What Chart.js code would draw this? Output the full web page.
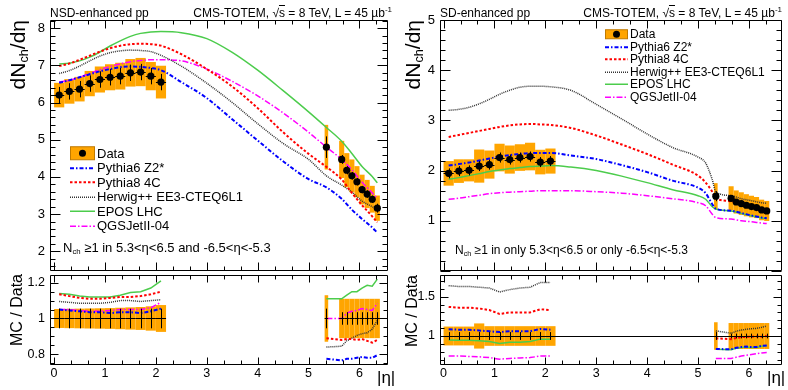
<!DOCTYPE html>
<html>
<head>
<meta charset="utf-8">
<script src="https://cdn.jsdelivr.net/npm/chart.js@4.4.0/dist/chart.umd.min.js"></script>
<style>
  body { margin: 0; width: 788px; height: 390px; position: relative; overflow: hidden; background: #fff;
         font-family: "Liberation Sans", Arial, Helvetica, sans-serif; color: #000; }
  canvas { position: absolute; }
  .t { position: absolute; white-space: nowrap; line-height: 16px; }
  .t sup { font-size: 8px; vertical-align: 5px; line-height: 0; }
  .t sub, .yt sub { font-size: 0.6em; vertical-align: -0.25em; line-height: 0; }
  .yt { position: absolute; white-space: nowrap; transform-origin: 0 0; transform: rotate(-90deg);
        text-align: right; width: 200px; }
  .leg { position: absolute; }
  .leg div { display: flex; align-items: center; white-space: nowrap; }
  .leg svg { flex: none; margin-right: 2px; }
</style>
</head>
<body>
<canvas id="nsdMain" width="400" height="275" style="left:0;top:0"></canvas>
<canvas id="nsdRatio" width="400" height="118" style="left:0;top:272px"></canvas>
<canvas id="sdMain" width="398" height="275" style="left:390px;top:0"></canvas>
<canvas id="sdRatio" width="398" height="118" style="left:390px;top:272px"></canvas>

<div class="t" style="left:50px;top:5px;font-size:12px">NSD-enhanced pp</div>
<div class="t" style="right:396px;top:5px;font-size:12px">CMS-TOTEM, √<span style="text-decoration:overline">s</span> = 8 TeV, L = 45 µb<sup>-1</sup></div>
<div class="t" style="left:440px;top:5px;font-size:12px">SD-enhanced pp</div>
<div class="t" style="right:6px;top:5px;font-size:12px">CMS-TOTEM, √<span style="text-decoration:overline">s</span> = 8 TeV, L = 45 µb<sup>-1</sup></div>

<div class="yt" style="left:5px;top:220px;font-size:21px;line-height:26px">dN<sub>ch</sub>/dη</div>
<div class="yt" style="left:400px;top:220px;font-size:21px;line-height:26px">dN<sub>ch</sub>/dη</div>
<div class="yt" style="left:7px;top:474px;font-size:16px;line-height:20px">MC / Data</div>
<div class="yt" style="left:402px;top:475px;font-size:16px;line-height:20px">MC / Data</div>

<div class="t" style="left:63px;top:240px;font-size:13px">N<sub>ch</sub> ≥1 in 5.3&lt;η&lt;6.5 and -6.5&lt;η&lt;-5.3</div>
<div class="t" style="left:455px;top:242px;font-size:12px">N<sub>ch</sub> ≥1 in only 5.3&lt;η&lt;6.5 or only -6.5&lt;η&lt;-5.3</div>

<div class="t" style="left:377px;top:368px;font-size:17px;line-height:20px">|η|</div>
<div class="t" style="left:767px;top:368px;font-size:17px;line-height:20px">|η|</div>

<div class="leg" id="legNsd" style="left:70px;top:146px;font-size:13px"></div>
<div class="leg" id="legSd" style="left:605px;top:28px;font-size:12px"></div>

<script>
// bins: central |eta| < 2.2 and forward 5.3 < |eta| < 6.5 (T2)
const etaBins = [0.1, 0.3, 0.5, 0.7, 0.9, 1.1, 1.3, 1.5, 1.7, 1.9, 2.1,
                 5.35, 5.65, 5.75, 5.85, 5.95, 6.05, 6.15, 6.25, 6.35];
const binHalf = [0.1, 0.1, 0.1, 0.1, 0.1, 0.1, 0.1, 0.1, 0.1, 0.1, 0.1,
                 0.035, 0.05, 0.05, 0.05, 0.05, 0.05, 0.05, 0.05, 0.05];
const etaTicks = [0, 1, 2, 3, 4, 5, 6];

// ---- NSD-enhanced ----
const nsdData = [6.20, 6.30, 6.36, 6.51, 6.62, 6.68, 6.71, 6.80, 6.82, 6.71, 6.55,
                 4.80, 4.47, 4.18, 4.03, 3.87, 3.66, 3.54, 3.40, 3.16];
const nsdStat = [0.22, 0.22, 0.22, 0.22, 0.22, 0.22, 0.22, 0.22, 0.22, 0.22, 0.22,
                 0.29, 0.12, 0.11, 0.10, 0.10, 0.10, 0.10, 0.10, 0.12];
const nsdSys = [0.33, 0.33, 0.33, 0.34, 0.35, 0.35, 0.36, 0.37, 0.38, 0.38, 0.44,
                0.60, 0.50, 0.46, 0.44, 0.42, 0.40, 0.38, 0.36, 0.34];
const nsdYTicks = [2, 3, 4, 5, 6, 7, 8];

const nsdMcEta = [0.1, 0.3, 0.5, 0.7, 0.9, 1.1, 1.3, 1.5, 1.7, 1.9, 2.1,
                  2.5, 3.0, 3.5, 4.0, 4.5, 5.0, 5.35, 5.65, 5.85, 6.05, 6.25, 6.35];
const nsdPythia6 = [6.53, 6.60, 6.68, 6.76, 6.84, 6.90, 6.95, 6.97, 6.96, 6.93, 6.87,
                    6.55, 6.12, 5.55, 4.98, 4.42, 3.94, 3.72, 3.41, 3.12, 2.87, 2.64, 2.50];
const nsdPythia8 = [6.98, 7.05, 7.15, 7.26, 7.37, 7.46, 7.53, 7.57, 7.58, 7.57, 7.53,
                    7.30, 6.90, 6.43, 5.85, 5.20, 4.62, 4.27, 3.93, 3.57, 3.24, 2.94, 2.78];
const nsdHerwig = [6.78, 6.86, 6.98, 7.12, 7.25, 7.34, 7.39, 7.41, 7.40, 7.37, 7.27,
                   6.98, 6.52, 6.00, 5.43, 4.90, 4.47, 4.03, 3.78, 3.59, 3.35, 3.20, 3.12];
const nsdEpos = [7.04, 7.06, 7.12, 7.22, 7.36, 7.52, 7.66, 7.78, 7.86, 7.90, 7.91,
                 7.88, 7.72, 7.35, 6.87, 6.32, 5.75, 5.33, 4.96, 4.63, 4.28, 4.01, 3.84];
const nsdQgs = [6.55, 6.60, 6.68, 6.78, 6.88, 6.97, 7.04, 7.10, 7.13, 7.15, 7.15,
                7.12, 6.90, 6.57, 6.18, 5.72, 5.20, 4.80, 4.47, 4.19, 3.86, 3.57, 3.42];

const nsdRatioStat = [0.055, 0.055, 0.055, 0.055, 0.055, 0.055, 0.055, 0.055, 0.055, 0.055, 0.055,
                      0.055, 0.035, 0.035, 0.035, 0.035, 0.035, 0.035, 0.035, 0.035];
const nsdRatioSys = [0.053, 0.054, 0.055, 0.056, 0.057, 0.058, 0.060, 0.062, 0.064, 0.068, 0.075,
                     0.130, 0.110, 0.110, 0.110, 0.110, 0.110, 0.110, 0.110, 0.110];
const nsdRatioPythia6 = [1.05, 1.045, 1.04, 1.035, 1.035, 1.03, 1.035, 1.035, 1.03, 1.04, 1.055,
                         0.775, 0.765, 0.775, 0.775, 0.78, 0.785, 0.78, 0.78, 0.795];
const nsdRatioPythia8 = [1.135, 1.125, 1.115, 1.11, 1.11, 1.115, 1.12, 1.12, 1.125, 1.135, 1.15,
                         0.89, 0.88, 0.885, 0.885, 0.88, 0.885, 0.875, 0.865, 0.88];
const nsdRatioHerwig = [1.095, 1.09, 1.085, 1.085, 1.085, 1.09, 1.10, 1.10, 1.095, 1.10, 1.105,
                        0.84, 0.845, 0.875, 0.89, 0.905, 0.915, 0.92, 0.94, 0.99];
const nsdRatioEpos = [1.14, 1.135, 1.125, 1.12, 1.12, 1.12, 1.13, 1.145, 1.15, 1.17, 1.21,
                      1.11, 1.11, 1.13, 1.15, 1.15, 1.17, 1.185, 1.18, 1.22];
const nsdRatioQgs = [1.05, 1.05, 1.045, 1.04, 1.04, 1.045, 1.05, 1.05, 1.05, 1.06, 1.09,
                     1.0, 1.0, 1.03, 1.04, 1.045, 1.055, 1.05, 1.045, 1.085];
const nsdRatioTicks = [0.8, 1, 1.2];

// ---- SD-enhanced ----
const sdData = [1.945, 1.99, 2.005, 2.09, 2.12, 2.26, 2.22, 2.26, 2.28, 2.17, 2.19,
                1.49, 1.448, 1.375, 1.343, 1.31, 1.284, 1.264, 1.216, 1.196];
const sdStat = [0.10, 0.10, 0.10, 0.10, 0.10, 0.10, 0.10, 0.10, 0.10, 0.10, 0.10,
                0.10, 0.04, 0.04, 0.04, 0.04, 0.04, 0.04, 0.04, 0.04];
const sdSys = [0.245, 0.235, 0.22, 0.33, 0.28, 0.275, 0.28, 0.265, 0.275, 0.245, 0.25,
               0.26, 0.24, 0.23, 0.225, 0.22, 0.215, 0.21, 0.205, 0.20];
const sdYTicks = [1, 2, 3, 4, 5];

const sdMcEta = [0.1, 0.3, 0.5, 0.7, 0.9, 1.1, 1.3, 1.5, 1.7, 1.9, 2.1,
                 2.5, 3.0, 3.5, 4.0, 4.5, 5.0, 5.15, 5.28, 5.35, 5.65, 5.85, 6.05, 6.25, 6.35];
const sdPythia6 = [2.10, 2.13, 2.16, 2.20, 2.24, 2.28, 2.31, 2.33, 2.35, 2.35, 2.35,
                   2.30, 2.23, 2.11, 1.97, 1.80, 1.66, 1.55, 1.33, 1.24, 1.20, 1.155, 1.105, 1.065, 1.05];
const sdPythia8 = [2.67, 2.71, 2.75, 2.79, 2.83, 2.87, 2.90, 2.92, 2.93, 2.92, 2.91,
                   2.85, 2.70, 2.52, 2.33, 2.12, 1.90, 1.76, 1.58, 1.445, 1.39, 1.32, 1.27, 1.20, 1.19];
const sdHerwig = [3.20, 3.22, 3.26, 3.33, 3.42, 3.52, 3.60, 3.66, 3.68, 3.68, 3.67,
                  3.60, 3.32, 3.03, 2.73, 2.46, 2.27, 2.15, 1.82, 1.58, 1.50, 1.44, 1.40, 1.36, 1.35];
const sdEpos = [1.83, 1.86, 1.90, 1.94, 1.98, 2.01, 2.04, 2.06, 2.08, 2.09, 2.10,
                2.07, 2.00, 1.89, 1.76, 1.62, 1.50, 1.43, 1.28, 1.235, 1.195, 1.148, 1.10, 1.058, 1.045];
const sdQgs = [1.43, 1.45, 1.48, 1.51, 1.54, 1.56, 1.57, 1.58, 1.59, 1.60, 1.60,
               1.60, 1.58, 1.55, 1.50, 1.44, 1.36, 1.30, 1.13, 1.065, 1.035, 1.0, 0.98, 0.955, 0.945];

const sdRatioStat = [0.05, 0.05, 0.05, 0.05, 0.05, 0.05, 0.05, 0.05, 0.05, 0.05, 0.05,
                     0.05, 0.03, 0.03, 0.03, 0.03, 0.03, 0.03, 0.03, 0.03];
const sdRatioSys = [0.12, 0.12, 0.12, 0.16, 0.125, 0.125, 0.125, 0.125, 0.125, 0.125, 0.125,
                    0.175, 0.165, 0.165, 0.165, 0.165, 0.165, 0.165, 0.165, 0.165];
const sdRatioPythia6 = [1.085, 1.08, 1.08, 1.07, 1.06, 1.05, 1.06, 1.06, 1.06, 1.09, 1.08,
                        0.835, 0.83, 0.85, 0.86, 0.865, 0.86, 0.86, 0.875, 0.88];
const sdRatioPythia8 = [1.37, 1.36, 1.36, 1.35, 1.33, 1.28, 1.30, 1.30, 1.30, 1.34, 1.33,
                        0.97, 0.96, 0.975, 0.985, 0.99, 0.99, 0.995, 0.99, 1.0];
const sdRatioHerwig = [1.64, 1.63, 1.63, 1.62, 1.61, 1.56, 1.59, 1.61, 1.62, 1.68, 1.68,
                       1.065, 1.035, 1.06, 1.075, 1.085, 1.093, 1.097, 1.11, 1.127];
const sdRatioEpos = [0.95, 0.945, 0.945, 0.94, 0.93, 0.905, 0.92, 0.92, 0.93, 0.96, 0.96,
                     0.83, 0.825, 0.845, 0.855, 0.86, 0.855, 0.855, 0.87, 0.875];
const sdRatioQgs = [0.745, 0.745, 0.74, 0.735, 0.725, 0.705, 0.715, 0.72, 0.725, 0.745, 0.745,
                    0.715, 0.715, 0.73, 0.745, 0.755, 0.765, 0.775, 0.785, 0.79];
const sdRatioTicks = [1, 1.5];

// generator styles (ROOT-like)
const mcLabels = ['Pythia6 Z2*', 'Pythia8 4C', 'Herwig++ EE3-CTEQ6L1', 'EPOS LHC', 'QGSJetII-04'];
const mcStyles = [
    { color: '#0000ff', width: 2, dash: [4, 2, 1.5, 2] },
    { color: '#ff0000', width: 2, dash: [2.5, 2] },
    { color: '#333333', width: 1.5, dash: [1, 1] },
    { color: '#4ccc4c', width: 1.5, dash: [] },
    { color: '#ff00ff', width: 1.5, dash: [6, 2, 1.5, 2] }
];
const ORANGE = '#ffa500';
const FONT = '"Liberation Sans", Arial, Helvetica, sans-serif';

Chart.defaults.font.family = FONT;
Chart.defaults.color = '#000';

// orange boxes + black error bars, drawn through the chart scales
const hepPlugin = {
    id: 'hep',
    beforeDatasetsDraw(chart, args, o) {
        const { ctx, chartArea: a, scales: { x, y } } = chart;
        ctx.save();
        ctx.beginPath();
        ctx.rect(a.left, a.top, a.width, a.height);
        ctx.clip();
        ctx.fillStyle = ORANGE;
        o.eta.forEach((e, i) => {
            const x0 = x.getPixelForValue(e - o.half[i]);
            const x1 = x.getPixelForValue(e + o.half[i]);
            const y0 = y.getPixelForValue(o.val[i] + o.sys[i]);
            const y1 = y.getPixelForValue(o.val[i] - o.sys[i]);
            ctx.fillRect(x0, y0, x1 - x0, y1 - y0);
        });
        if (o.unity) {
            const py = Math.round(y.getPixelForValue(1)) + 0.5;
            ctx.strokeStyle = '#000';
            ctx.lineWidth = 1;
            ctx.beginPath();
            ctx.moveTo(a.left, py);
            ctx.lineTo(a.right, py);
            ctx.stroke();
        }
        ctx.restore();
    },
    afterDatasetsDraw(chart, args, o) {
        const { ctx, chartArea: a, scales: { x, y } } = chart;
        ctx.save();
        ctx.beginPath();
        ctx.rect(a.left, a.top, a.width, a.height);
        ctx.clip();
        ctx.strokeStyle = '#000';
        ctx.lineWidth = 1;
        ctx.beginPath();
        o.eta.forEach((e, i) => {
            const px = Math.round(x.getPixelForValue(e)) + 0.5;
            const py = Math.round(y.getPixelForValue(o.val[i])) + 0.5;
            ctx.moveTo(px, y.getPixelForValue(o.val[i] + o.stat[i]));
            ctx.lineTo(px, y.getPixelForValue(o.val[i] - o.stat[i]));
            ctx.moveTo(x.getPixelForValue(e - o.half[i]), py);
            ctx.lineTo(x.getPixelForValue(e + o.half[i]), py);
        });
        ctx.stroke();
        ctx.restore();
    }
};

// frame with inward ticks on all four sides
const framePlugin = {
    id: 'frame',
    afterDraw(chart, args, o) {
        const { ctx, chartArea: a, scales: { x, y } } = chart;
        const L = Math.round(a.left) + 0.5, R = Math.round(a.right) - 0.5;
        const T = Math.round(a.top) + 0.5, B = Math.round(a.bottom) - 0.5;
        ctx.save();
        ctx.strokeStyle = '#000';
        ctx.lineWidth = 1;
        ctx.beginPath();
        ctx.rect(L, T, R - L, B - T);
        const xm = o.xStep / o.xSub;
        for (let i = Math.ceil(x.min / xm - 1e-6); i * xm <= x.max + 1e-9; i++) {
            const px = Math.round(x.getPixelForValue(i * xm)) + 0.5;
            const len = ((i % o.xSub) + o.xSub) % o.xSub === 0 ? o.xMaj : o.xMin;
            ctx.moveTo(px, B); ctx.lineTo(px, B - len);
            ctx.moveTo(px, T); ctx.lineTo(px, T + len);
        }
        const ym = o.yStep / o.ySub;
        for (let i = Math.ceil(y.min / ym - 1e-6); i * ym <= y.max + 1e-9; i++) {
            const py = Math.round(y.getPixelForValue(i * ym)) + 0.5;
            const len = ((i % o.ySub) + o.ySub) % o.ySub === 0 ? o.yMaj : o.yMin;
            ctx.moveTo(L, py); ctx.lineTo(L + len, py);
            ctx.moveTo(R, py); ctx.lineTo(R - len, py);
        }
        ctx.stroke();
        ctx.restore();
    }
};

function mcDataset(xs, ys, i, smooth) {
    const s = mcStyles[i];
    return {
        type: 'line',
        label: mcLabels[i],
        data: xs.map((x, k) => ({ x, y: ys[k] })),
        borderColor: s.color,
        borderWidth: s.width,
        borderDash: s.dash,
        pointRadius: 0,
        fill: false,
        cubicInterpolationMode: smooth ? 'monotone' : 'default',
        tension: 0,
        order: 1
    };
}

function ratioPoints(vals) {
    const pts = etaBins.map((x, k) => ({ x, y: vals[k] }));
    pts.splice(11, 0, { x: 3.7, y: null }); // gap between central and forward
    return pts;
}

function noPad(s) {
    s.paddingTop = 0; s.paddingBottom = 0; s.paddingLeft = 0; s.paddingRight = 0;
}

function yAxis(min, max, ticks, size) {
    return {
        min, max,
        afterBuildTicks: s => { s.ticks = ticks.map(v => ({ value: v })); },
        afterFit: s => { s.width = 50; noPad(s); },
        grid: { display: false, drawTicks: false },
        border: { display: false },
        ticks: { padding: 5, font: { size }, color: '#000', callback: v => String(v) }
    };
}

function xAxis(min, max, shown) {
    return {
        type: 'linear', min, max, display: shown,
        afterBuildTicks: s => { s.ticks = etaTicks.map(v => ({ value: v })); },
        afterFit: s => { s.height = shown ? 25 : 0; noPad(s); },
        grid: { display: false, drawTicks: false },
        border: { display: false },
        ticks: { padding: 1, font: { size: 12.5 }, color: '#000', maxRotation: 0, autoSkip: false }
    };
}

function makeChart(id, datasets, scales, padding, hep, frame) {
    return new Chart(document.getElementById(id), {
        type: 'line',
        data: { datasets },
        options: {
            responsive: false,
            animation: false,
            devicePixelRatio: 1,
            events: [],
            layout: { padding },
            scales,
            plugins: { legend: { display: false }, tooltip: { enabled: false }, hep, frame }
        },
        plugins: [hepPlugin, framePlugin]
    });
}

const mainTicks = { xStep: 1, xSub: 3, xMaj: 8, xMin: 4, yStep: 1, ySub: 5, yMaj: 10, yMin: 5 };

// NSD main
makeChart('nsdMain',
    [
        ...[nsdPythia6, nsdPythia8, nsdHerwig, nsdEpos, nsdQgs].map((ys, i) => mcDataset(nsdMcEta, ys, i, true)),
        { type: 'scatter', data: etaBins.map((x, k) => ({ x, y: nsdData[k] })),
          pointRadius: 3.6, pointBackgroundColor: '#000', pointBorderWidth: 0, order: 0 }
    ],
    { x: xAxis(-0.08, 6.56, false), y: yAxis(1.47, 8.22, nsdYTicks, 13) },
    { left: 0, right: 12, top: 20, bottom: 3 },
    { eta: etaBins, half: binHalf, val: nsdData, sys: nsdSys, stat: nsdStat },
    mainTicks);

// NSD ratio
makeChart('nsdRatio',
    [nsdRatioPythia6, nsdRatioPythia8, nsdRatioHerwig, nsdRatioEpos, nsdRatioQgs]
        .map((ys, i) => ({ ...mcDataset([], [], i, false), data: ratioPoints(ys) })),
    { x: xAxis(-0.08, 6.56, true), y: yAxis(0.74, 1.243, nsdRatioTicks, 12.5) },
    { left: 0, right: 12, top: 3, bottom: 0 },
    { eta: etaBins, half: binHalf, val: etaBins.map(() => 1), sys: nsdRatioSys, stat: nsdRatioStat },
    { xStep: 1, xSub: 3, xMaj: 7, xMin: 4, yStep: 0.2, ySub: 4, yMaj: 8, yMin: 4 });

// SD main
makeChart('sdMain',
    [
        ...[sdPythia6, sdPythia8, sdHerwig, sdEpos, sdQgs].map((ys, i) => mcDataset(sdMcEta, ys, i, true)),
        { type: 'scatter', data: etaBins.map((x, k) => ({ x, y: sdData[k] })),
          pointRadius: 3.6, pointBackgroundColor: '#000', pointBorderWidth: 0, order: 0 }
    ],
    { x: xAxis(-0.07, 6.65, false), y: yAxis(0, 5, sdYTicks, 13) },
    { left: 0, right: 6, top: 20, bottom: 3 },
    { eta: etaBins, half: binHalf, val: sdData, sys: sdSys, stat: sdStat },
    mainTicks);

// SD ratio
makeChart('sdRatio',
    [sdRatioPythia6, sdRatioPythia8, sdRatioHerwig, sdRatioEpos, sdRatioQgs]
        .map((ys, i) => ({ ...mcDataset([], [], i, false), data: ratioPoints(ys) })),
    { x: xAxis(-0.07, 6.65, true), y: yAxis(0.631, 1.776, sdRatioTicks, 12.5) },
    { left: 0, right: 6, top: 3, bottom: 0 },
    { eta: etaBins, half: binHalf, val: etaBins.map(() => 1), sys: sdRatioSys, stat: sdRatioStat, unity: true },
    { xStep: 1, xSub: 3, xMaj: 7, xMin: 4, yStep: 0.5, ySub: 5, yMaj: 8, yMin: 4 });

// legends (HTML text, small SVG samples)
function buildLegend(id, rowH, symW, boxH) {
    const el = document.getElementById(id);
    const rows = [];
    const mid = rowH / 2;
    rows.push(`<div style="height:${rowH}px"><svg width="${symW}" height="${rowH}">` +
        `<rect x="0.5" y="${mid - boxH / 2}" width="${symW - 1}" height="${boxH}" fill="${ORANGE}" stroke="#c07a00" stroke-width="1"/>` +
        `<circle cx="${symW / 2}" cy="${mid}" r="3.5" fill="#000"/></svg>Data</div>`);
    mcLabels.forEach((lab, i) => {
        const s = mcStyles[i];
        rows.push(`<div style="height:${rowH}px"><svg width="${symW}" height="${rowH}">` +
            `<line x1="0" y1="${mid}" x2="${symW}" y2="${mid}" stroke="${s.color}" stroke-width="${s.width}" ` +
            `stroke-dasharray="${s.dash.join(' ') || 'none'}"/></svg>${lab}</div>`);
    });
    el.innerHTML = rows.join('');
}
buildLegend('legNsd', 14.5, 25, 13);
buildLegend('legSd', 12.5, 23, 9);
</script>
</body>
</html>
